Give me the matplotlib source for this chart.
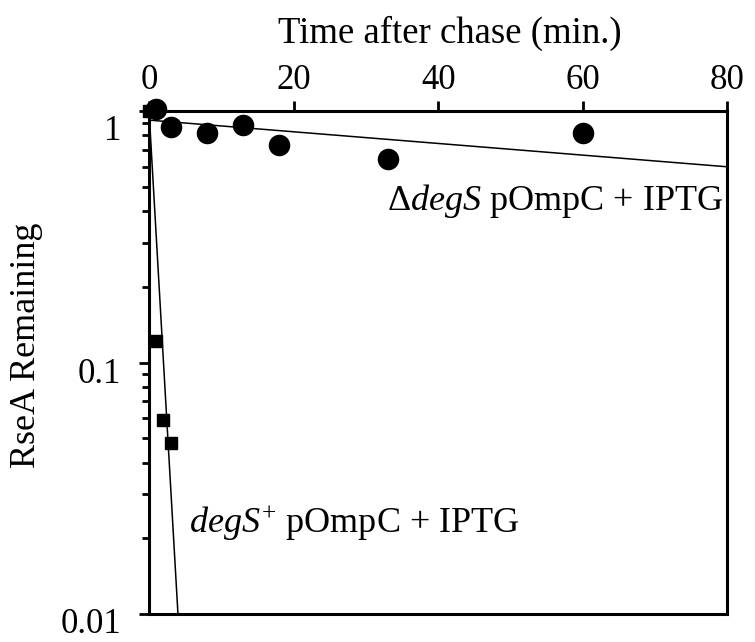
import numpy as np
import matplotlib
matplotlib.use("Agg")
import matplotlib.pyplot as plt
import matplotlib.transforms as mtransforms
from matplotlib.ticker import LogLocator, NullFormatter, FixedLocator

plt.rcParams['font.family'] = ['Liberation Serif', 'DejaVu Serif']
plt.rcParams['mathtext.fontset'] = 'custom'
plt.rcParams['mathtext.rm'] = 'Liberation Serif'
plt.rcParams['mathtext.it'] = 'Liberation Serif:italic'

# RseA remaining after chase, degS deletion strain
delta_time = [1, 3, 8, 13, 18, 33, 60]
delta_frac = [1.02, 0.86, 0.82, 0.88, 0.73, 0.645, 0.82]
delta_fit_time = [0, 80]
delta_fit_frac = [0.92, 0.60]

# RseA remaining after chase, degS+ strain
wt_time = [0, 1, 2, 3]
wt_frac = [1.0, 0.122, 0.059, 0.048]
wt_fit_time = [0, 4]
wt_fit_frac = [1.0, 0.01]

fig = plt.figure(figsize=(7.55, 6.42), dpi=100)
ax = fig.add_axes([0.1974, 0.0436, 0.7660, 0.7835])

ax.plot(delta_fit_time, delta_fit_frac, color='black', lw=1.1, zorder=2)
ax.plot(wt_fit_time, wt_fit_frac, color='black', lw=1.1, zorder=2)
ax.plot(delta_time, delta_frac, 'o', color='black', ms=14.5, zorder=3, clip_on=False)
ax.plot(wt_time, wt_frac, 's', color='black', ms=9, zorder=3, clip_on=False)

ax.set_yscale('log')
ax.set_xlim(0, 80)
ax.set_ylim(0.01, 1)

ax.xaxis.tick_top()
ax.xaxis.set_label_position('top')
ax.set_xticks([0, 20, 40, 60, 80])
ax.set_xlabel('Time after chase (min.)', fontsize=26.5, labelpad=12)
ax.xaxis.set_label_coords(0.52, 1.135)
ax.set_ylabel('RseA Remaining', fontsize=26)
ax.yaxis.set_label_coords(-0.183, 0.534)

ax.yaxis.set_major_locator(FixedLocator([0.01, 0.1, 1]))
ax.set_yticklabels(['0.01', '0.1', '1'])
ax.yaxis.set_minor_locator(LogLocator(base=10, subs=np.arange(2, 10)))
ax.yaxis.set_minor_formatter(NullFormatter())

ax.tick_params(axis='both', which='major', labelsize=25, width=2, length=7,
               direction='out')
ax.tick_params(axis='y', which='minor', width=2, length=5, direction='out')
ax.tick_params(axis='x', pad=3)
ax.tick_params(axis='y', pad=13)

for side in ['top', 'bottom', 'left', 'right']:
    ax.spines[side].set_linewidth(2.2)

# y tick labels sit a little below their ticks
offsets = [-6, -8, -16]
for lab, dy in zip(ax.get_yticklabels(), offsets):
    lab.set_transform(lab.get_transform() +
                      mtransforms.ScaledTranslation(0, dy / 100, fig.dpi_scale_trans))

ax.text(79.5, 0.44, r'Δ$\mathit{degS}$ pOmpC + IPTG', ha='right', va='center',
        fontsize=26)
ax.text(5.5, 0.023, r'$\mathit{degS}^{+}$ pOmpC + IPTG', ha='left', va='center',
        fontsize=26)

fig.savefig('out.png', dpi=100)
